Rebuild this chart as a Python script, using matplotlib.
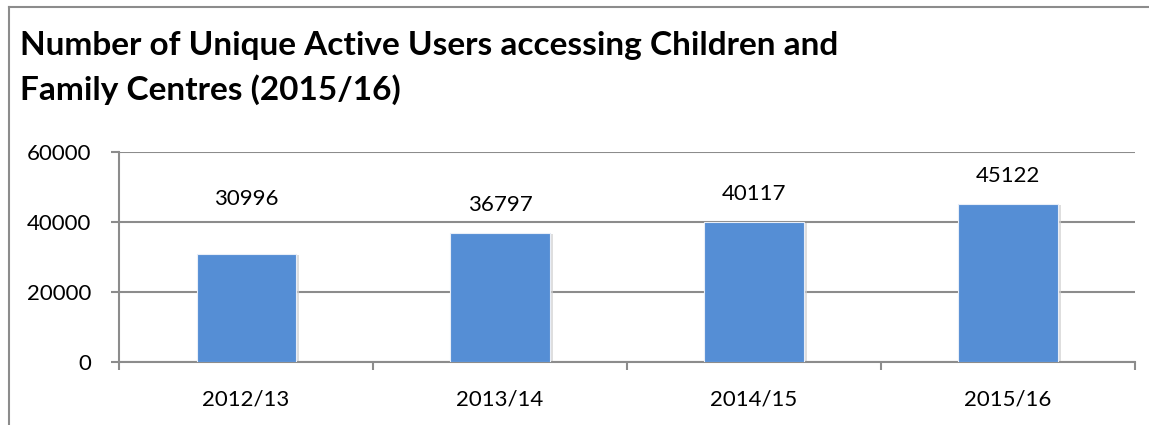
import matplotlib
matplotlib.use('Agg')
import matplotlib.pyplot as plt
from matplotlib.lines import Line2D
from matplotlib.ticker import FixedLocator

years = ['2012/13', '2013/14', '2014/15', '2015/16']
users = [30996, 36797, 40117, 45122]
# vertical offset of each value label above its bar, in points
label_offsets = [39, 20, 20, 20]
y_ticks = [0, 20000, 40000, 60000]

bar_color = '#558ED5'
line_color = '#8C8C8C'
plt.rcParams['font.family'] = ['Lato', 'DejaVu Sans']


def main():
    fig = plt.figure(figsize=(11.49, 4.25), dpi=100)
    ax = fig.add_axes([0.1036, 0.1482, 0.8842, 0.4941])

    x = range(len(years))
    # soft drop shadow behind the bars
    ax.bar([i + 0.012 for i in x], [u - 300 for u in users], width=0.39,
           color='#d0d0d0', zorder=2, alpha=0.7)
    ax.bar(x, users, width=0.39, color=bar_color, edgecolor='#e8eef8',
           linewidth=0.8, zorder=3)

    for i, u in enumerate(users):
        ax.annotate(str(u), (i, u), xytext=(0, label_offsets[i]),
                    textcoords='offset points', ha='center', va='center',
                    fontsize=16, color='black')

    ax.set_xlim(-0.5, 3.5)
    ax.set_ylim(0, 60000)
    ax.set_yticks(y_ticks)
    ax.set_yticklabels([str(t) for t in y_ticks])
    ax.xaxis.set_major_locator(FixedLocator([-0.5, 0.5, 1.5, 2.5, 3.5]))
    ax.set_xticklabels([])
    ax.xaxis.set_minor_locator(FixedLocator(list(x)))
    ax.set_xticklabels(years, minor=True)

    ax.tick_params(axis='x', which='major', length=6, width=1.5, color=line_color, direction='out')
    ax.tick_params(axis='x', which='minor', length=0, pad=20, labelsize=16)
    ax.tick_params(axis='y', length=6, width=1.5, color=line_color, pad=14, labelsize=16)

    ax.grid(axis='y', color=line_color, linewidth=1.5, zorder=1)
    ax.set_axisbelow(True)
    for side in ['top', 'right']:
        ax.spines[side].set_visible(False)
    for side in ['left', 'bottom']:
        ax.spines[side].set_color(line_color)
        ax.spines[side].set_linewidth(1.5)

    fig.text(0.0174, 0.894, 'Number of Unique Active Users accessing Children and',
             fontsize=24, fontweight='bold', va='center')
    fig.text(0.0174, 0.788, 'Family Centres (2015/16)',
             fontsize=24, fontweight='bold', va='center')

    # chart area border (left and top edges only)
    fig.add_artist(Line2D([9 / 1149, 9 / 1149], [0, 1 - 7 / 425], transform=fig.transFigure,
                          color=line_color, linewidth=1.5))
    fig.add_artist(Line2D([9 / 1149, 1], [1 - 7 / 425, 1 - 7 / 425], transform=fig.transFigure,
                          color=line_color, linewidth=1.5))

    fig.savefig('out.png', dpi=100)
    plt.close(fig)


if __name__ == "__main__":
    main()
